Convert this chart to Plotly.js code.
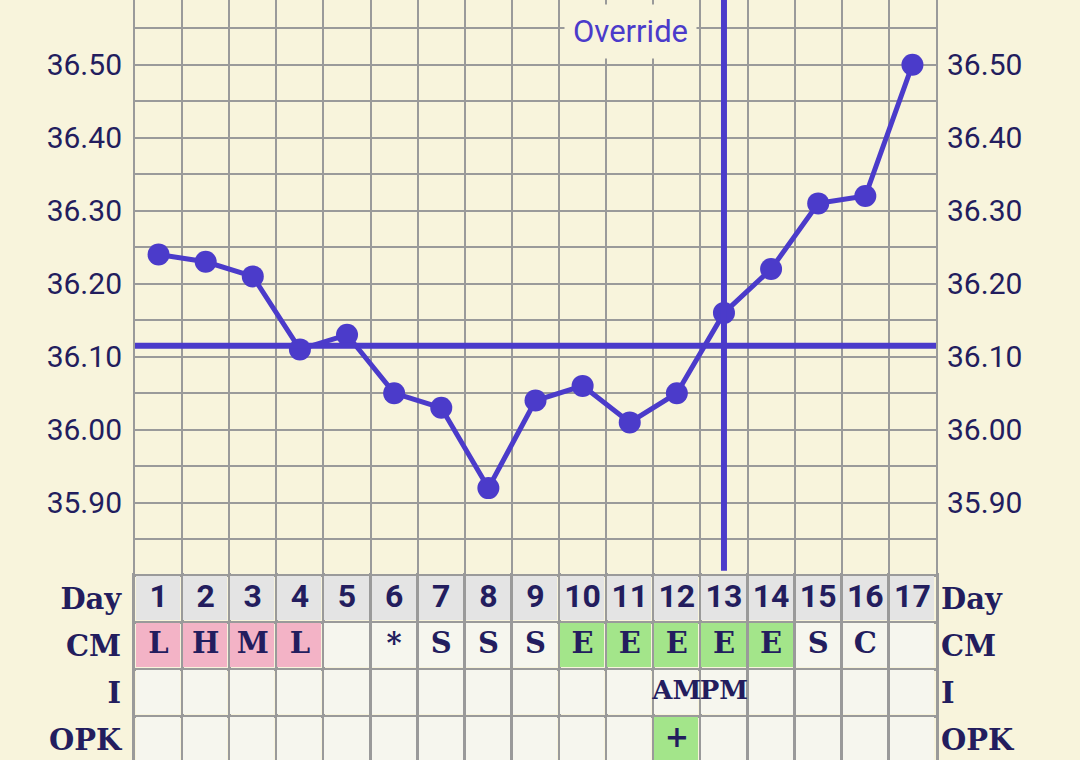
<!DOCTYPE html>
<html>
<head>
<meta charset="utf-8">
<script src="https://cdn.plot.ly/plotly-3.0.1.min.js"></script>
<style>
  html, body { margin: 0; padding: 0; background: #f8f4dc; }
  #chart { width: 1080px; height: 760px; }
</style>
</head>
<body>
<div id="chart"></div>
<script>
// ---- data ----
const days = [1, 2, 3, 4, 5, 6, 7, 8, 9, 10, 11, 12, 13, 14, 15, 16, 17];
const temps = [36.24, 36.23, 36.21, 36.11, 36.13, 36.05, 36.03, 35.92, 36.04, 36.06, 36.01, 36.05, 36.16, 36.22, 36.31, 36.32, 36.50];
const coverline = 36.115;
const ovulationDay = 13;
const overrideLabel = 'Override';
const tempTicks = [35.90, 36.00, 36.10, 36.20, 36.30, 36.40, 36.50];
const rowLabels = ['Day', 'CM', 'I', 'OPK'];
const cmCodes = ['L', 'H', 'M', 'L', '', '*', 'S', 'S', 'S', 'E', 'E', 'E', 'E', 'E', 'S', 'C', ''];
const intercourse = ['', '', '', '', '', '', '', '', '', '', '', 'AM', 'PM', '', '', '', ''];
const opkResults = ['', '', '', '', '', '', '', '', '', '', '', '+', '', '', '', '', ''];

// ---- styles ----
const NAVY = '#231d5e';
const PURPLE = '#4b3bca';
const CREAM = '#f8f4dc';
const GRID = '#9a9a9a';
const OFF = '#f6f6ee', GRAY = '#e4e4e4', PINK = '#f3b3c6', GREEN = '#a3e58a';

// cell colour codes: 0 blank, 1 header, 2 flow, 3 fertile/positive
const flowCodes = ['L', 'H', 'M'];
const cmColor = c => flowCodes.includes(c) ? 2 : (c === 'E' ? 3 : 0);
const opkColor = c => c === '+' ? 3 : 0;
const z = [
  days.map(() => 1),
  cmCodes.map(cmColor),
  intercourse.map(() => 0),
  opkResults.map(opkColor)
];
const rowIdx = rowLabels.map((_, i) => i);

const slab = { family: 'DejaVu Serif', size: 29, color: NAVY, weight: 700 };
const slabSmall = { family: 'DejaVu Serif', size: 26, color: NAVY, weight: 700 };
const traces = [
  {
    type: 'heatmap', x: days, y: rowIdx, z: z, xaxis: 'x2', yaxis: 'y2',
    zmin: -0.5, zmax: 3.5, showscale: false, xgap: 3, ygap: 3, hoverinfo: 'skip',
    colorscale: [[0, OFF], [0.25, OFF], [0.25, GRAY], [0.5, GRAY], [0.5, PINK], [0.75, PINK], [0.75, GREEN], [1, GREEN]]
  },
  {
    type: 'scatter', mode: 'text', x: days, y: days.map(() => 0), text: days.map(String),
    xaxis: 'x2', yaxis: 'y2', textfont: { family: 'Roboto', size: 32, color: NAVY, weight: 700 }, hoverinfo: 'skip'
  },
  {
    type: 'scatter', mode: 'text', x: days, y: days.map(() => 1), text: cmCodes,
    xaxis: 'x2', yaxis: 'y2', textfont: slab, hoverinfo: 'skip'
  },
  {
    type: 'scatter', mode: 'text', x: days, y: days.map(() => 2), text: intercourse,
    xaxis: 'x2', yaxis: 'y2', textfont: slabSmall, hoverinfo: 'skip'
  },
  {
    type: 'scatter', mode: 'text', x: days, y: days.map(() => 3), text: opkResults,
    xaxis: 'x2', yaxis: 'y2', textfont: slab, hoverinfo: 'skip'
  },
  // invisible companions so the right-hand axes get drawn
  {
    type: 'scatter', mode: 'lines', x: days, y: temps, xaxis: 'x', yaxis: 'y3',
    line: { width: 0 }, opacity: 0, hoverinfo: 'skip'
  },
  {
    type: 'scatter', mode: 'lines', x: days, y: days.map(() => 0), xaxis: 'x2', yaxis: 'y4',
    line: { width: 0 }, opacity: 0, hoverinfo: 'skip'
  },
  {
    type: 'scatter', mode: 'lines+markers', x: days, y: temps, xaxis: 'x', yaxis: 'y',
    line: { color: PURPLE, width: 5 }, marker: { color: PURPLE, size: 22 }, hoverinfo: 'skip'
  }
];

const mainBottom = (760 - 573) / 760;
const yRange = [35.8037, 36.5886];
const y2Range = [3.436, -0.5426];
const tickFont = { family: 'Roboto', size: 30, color: NAVY };

const layout = {
  width: 1080, height: 760,
  margin: { l: 135, r: 144, t: 0, b: 0 },
  paper_bgcolor: CREAM, plot_bgcolor: CREAM,
  showlegend: false,
  xaxis: {
    domain: [0, 1], range: [0.5, 17.5], anchor: 'y',
    tickmode: 'linear', tick0: 0.5, dtick: 1, showticklabels: false, ticks: '',
    showgrid: true, gridcolor: GRID, gridwidth: 2, zeroline: false, fixedrange: true
  },
  yaxis: {
    domain: [mainBottom, 1], range: yRange, anchor: 'x',
    tickmode: 'array', tickvals: tempTicks, tickformat: '.2f', tickfont: tickFont, ticks: '',
    ticklabelstandoff: 5,
    showgrid: true, gridcolor: GRID, gridwidth: 2, zeroline: false,
    minor: { tickmode: 'linear', tick0: 35.85, dtick: 0.1, showgrid: true, gridcolor: GRID, gridwidth: 2 },
    showline: true, mirror: true, linecolor: GRID, linewidth: 2, fixedrange: true
  },
  yaxis3: {
    overlaying: 'y', side: 'right', anchor: 'x', range: yRange,
    tickmode: 'array', tickvals: tempTicks, tickformat: '.2f', tickfont: tickFont, ticks: '',
    ticklabelstandoff: 10, showgrid: false, zeroline: false, fixedrange: true
  },
  xaxis2: {
    domain: [0, 1], range: [0.5, 17.5], anchor: 'y2',
    tickmode: 'linear', tick0: 0.5, dtick: 1, showticklabels: false, ticks: '',
    showgrid: true, gridcolor: GRID, gridwidth: 3, zeroline: false, fixedrange: true
  },
  yaxis2: {
    domain: [0, mainBottom], range: y2Range, anchor: 'x2',
    tickmode: 'array', tickvals: rowIdx, ticktext: rowLabels, tickfont: slab, ticks: '',
    ticklabelstandoff: 5, showgrid: false, zeroline: false,
    minor: { tickmode: 'linear', tick0: -0.5, dtick: 1, showgrid: true, gridcolor: GRID, gridwidth: 3 },
    showline: true, mirror: true, linecolor: GRID, linewidth: 3, fixedrange: true
  },
  yaxis4: {
    overlaying: 'y2', side: 'right', anchor: 'x2', range: y2Range,
    tickmode: 'array', tickvals: rowIdx, ticktext: rowLabels, tickfont: slab, ticks: '',
    ticklabelstandoff: 4, showgrid: false, zeroline: false, fixedrange: true
  },
  shapes: [
    { type: 'line', xref: 'x domain', x0: 0, x1: 1, yref: 'y', y0: coverline, y1: coverline,
      line: { color: PURPLE, width: 6 } },
    { type: 'line', xref: 'x', x0: ovulationDay, x1: ovulationDay, yref: 'y domain', y0: 0.004, y1: 1,
      line: { color: PURPLE, width: 6 } }
  ],
  annotations: [
    { text: overrideLabel, xref: 'x', x: ovulationDay, xanchor: 'right', xshift: -27,
      yref: 'y domain', y: 1, yanchor: 'top', yshift: -4, showarrow: false,
      font: { family: 'Roboto', size: 31, color: PURPLE }, bgcolor: CREAM, borderpad: 8 }
  ]
};

Plotly.newPlot('chart', traces, layout, { staticPlot: true, displayModeBar: false });
</script>
</body>
</html>
